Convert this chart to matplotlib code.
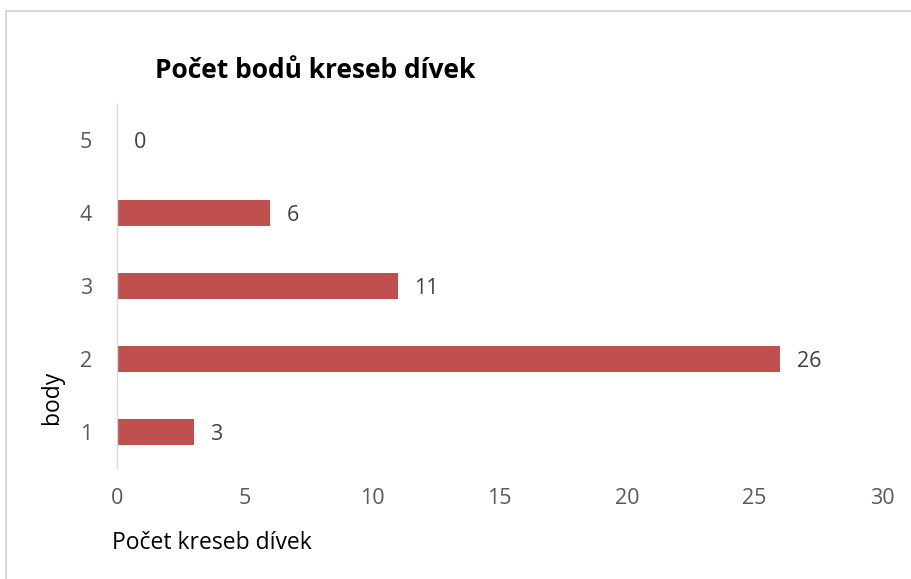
import matplotlib
matplotlib.use("Agg")
import matplotlib.pyplot as plt
from matplotlib.lines import Line2D

categories = ["1", "2", "3", "4", "5"]
values = [3, 26, 11, 6, 0]
xticks = [0, 5, 10, 15, 20, 25, 30]

plt.rcParams['font.family'] = ['Open Sans', 'DejaVu Sans']

W, H = 911, 579
fig = plt.figure(figsize=(W / 100, H / 100), dpi=100)
ax = fig.add_axes([117 / W, 1 - 468.5 / H, (882 - 117) / W, (468.5 - 103.5) / H])

ypos = list(range(1, len(categories) + 1))
bars = ax.barh(ypos, values, height=0.36, color="#C0504D")
for y, v in zip(ypos, values):
    ax.text(v + 0.65, y - 0.03, str(v), va="center", ha="left", fontsize=15.5, color="#404040")

ax.set_xlim(0, 30)
ax.set_ylim(0.5, 5.5)
ax.set_xticks(xticks)
ax.set_xticklabels([str(t) for t in xticks])
ax.set_yticks(ypos)
ax.set_yticklabels(categories)
ax.tick_params(axis="both", length=0, labelsize=15.5, labelcolor="#595959")
ax.tick_params(axis="x", pad=14)
ax.tick_params(axis="y", pad=18)
for s in ["top", "right", "bottom"]:
    ax.spines[s].set_visible(False)
ax.spines["left"].set_color("#D9D9D9")
ax.spines["left"].set_linewidth(1.0)

fig.text(155 / W, 1 - 70 / H, "Počet bodů kreseb dívek", fontsize=19, fontweight="bold",
         ha="left", va="center", color="#000000")
fig.text(112 / W, 1 - 543 / H, "Počet kreseb dívek", fontsize=16.5, ha="left", va="center", color="#000000")
fig.text(52 / W, 1 - 397 / H, "body", fontsize=16.5, rotation=90, ha="center", va="center", color="#000000")

# outer chart border (top and left visible)
fig.add_artist(Line2D([6 / W, 6 / W], [0, 1 - 11 / H], transform=fig.transFigure, color="#D9D9D9", lw=1.5))
fig.add_artist(Line2D([6 / W, 1], [1 - 11 / H, 1 - 11 / H], transform=fig.transFigure, color="#D9D9D9", lw=1.5))

fig.savefig("out.png", dpi=100)
